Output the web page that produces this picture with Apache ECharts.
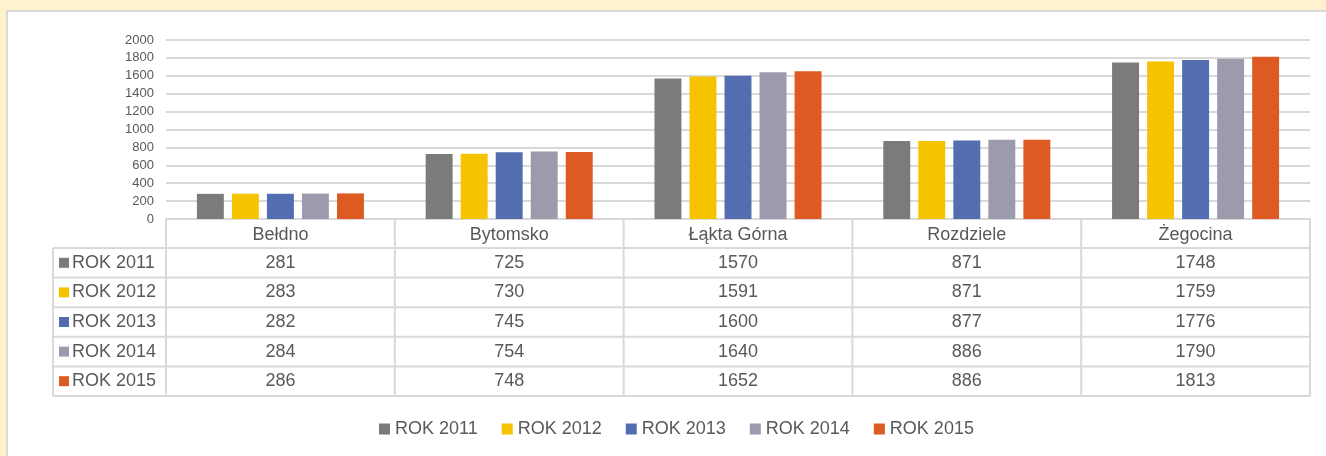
<!DOCTYPE html>
<html>
<head>
<meta charset="utf-8">
<script src="https://cdn.jsdelivr.net/npm/echarts@6/dist/echarts.min.js"></script>
<style>
  html, body { margin: 0; padding: 0; background: #FFF2CC; }
  #panel { position: absolute; left: 6px; top: 10px; width: 1330px; height: 460px;
           background: #fff; border-left: 2px solid #D9D9D9; border-top: 2px solid #D9D9D9; }
  #chart { position: absolute; left: 0; top: 0; width: 1326px; height: 456px; }
</style>
</head>
<body>
<div id="panel"></div>
<div id="chart"></div>
<script>
const categories = ['Bełdno', 'Bytomsko', 'Łąkta Górna', 'Rozdziele', 'Żegocina'];
const years = ['ROK 2011', 'ROK 2012', 'ROK 2013', 'ROK 2014', 'ROK 2015'];
const rok2011 = [281, 725, 1570, 871, 1748];
const rok2012 = [283, 730, 1591, 871, 1759];
const rok2013 = [282, 745, 1600, 877, 1776];
const rok2014 = [284, 754, 1640, 886, 1790];
const rok2015 = [286, 748, 1652, 886, 1813];
const yTicks = { min: 0, max: 2000, interval: 200 };

const values = [rok2011, rok2012, rok2013, rok2014, rok2015];
const colors = ['#7B7B7B', '#F5C300', '#526DB0', '#9B9BAD', '#DE5A23'];
const textColor = '#595959';
const lineColor = '#D9D9D9';

var chartDom = document.getElementById('chart');
var myChart = echarts.init(chartDom);

var option = {
  animation: false,
  textStyle: { fontFamily: 'Liberation Sans, Arial, sans-serif' },
  grid: { left: 166, right: 16, top: 40, bottom: 237, containLabel: false },
  legend: {
    data: years,
    left: 374,
    top: 415,
    icon: 'rect',
    itemWidth: 11,
    itemHeight: 11,
    itemGap: 24,
    textStyle: { fontSize: 18, color: textColor }
  },
  xAxis: {
    type: 'category',
    data: categories,
    axisLine: { lineStyle: { color: lineColor, width: 2 } },
    axisTick: { show: false },
    axisLabel: { margin: 7, fontSize: 18, color: textColor }
  },
  yAxis: {
    type: 'value',
    min: yTicks.min,
    max: yTicks.max,
    interval: yTicks.interval,
    axisLine: { show: false },
    axisTick: { show: false },
    axisLabel: { margin: 12, fontSize: 13, color: textColor, formatter: v => String(v) },
    splitLine: { lineStyle: { color: lineColor, width: 2 } }
  },
  series: years.map((name, i) => ({
    name: name,
    type: 'bar',
    data: values[i],
    itemStyle: { color: colors[i] },
    barGap: '30%',
    barCategoryGap: '27%'
  }))
};
myChart.setOption(option);

// data table under the axis, built from the same arrays and the axis scale
function buildTable() {
  const n = categories.length;
  const c0 = myChart.convertToPixel({ xAxisIndex: 0 }, 0);
  const c1 = myChart.convertToPixel({ xAxisIndex: 0 }, 1);
  const band = c1 - c0;
  const left = c0 - band / 2;
  const right = left + band * n;
  const yTop = myChart.convertToPixel({ yAxisIndex: 0 }, 0);
  const rowH = 29.6;
  const headH = 29;
  const labelLeft = 53;
  const rowsTop = yTop + headH;
  const bottom = rowsTop + rowH * years.length;
  const els = [];
  const line = (x1, y1, x2, y2) => els.push({
    type: 'line', shape: { x1, y1, x2, y2 }, style: { stroke: lineColor, lineWidth: 2 }, silent: true
  });
  for (let r = 0; r <= years.length; r++) {
    const y = rowsTop + r * rowH;
    line(labelLeft, y, right, y);
  }
  line(labelLeft, rowsTop, labelLeft, bottom);
  for (let c = 0; c <= n; c++) {
    const x = left + c * band;
    line(x, yTop, x, bottom);
  }
  years.forEach((name, r) => {
    const cy = rowsTop + r * rowH + rowH / 2;
    els.push({ type: 'rect', shape: { x: labelLeft + 6, y: cy - 5, width: 10, height: 10 }, style: { fill: colors[r] }, silent: true });
    els.push({ type: 'text', x: labelLeft + 19, y: cy, style: {
      text: name, fill: textColor, font: '18px "Liberation Sans", Arial, sans-serif', verticalAlign: 'middle', align: 'left'
    }, silent: true });
    values[r].forEach((v, c) => {
      els.push({ type: 'text', x: left + band * (c + 0.5), y: cy, style: {
        text: String(v), fill: textColor, font: '18px "Liberation Sans", Arial, sans-serif', verticalAlign: 'middle', align: 'center'
      }, silent: true });
    });
  });
  myChart.setOption({ graphic: { elements: els } });
}
buildTable();
</script>
</body>
</html>
